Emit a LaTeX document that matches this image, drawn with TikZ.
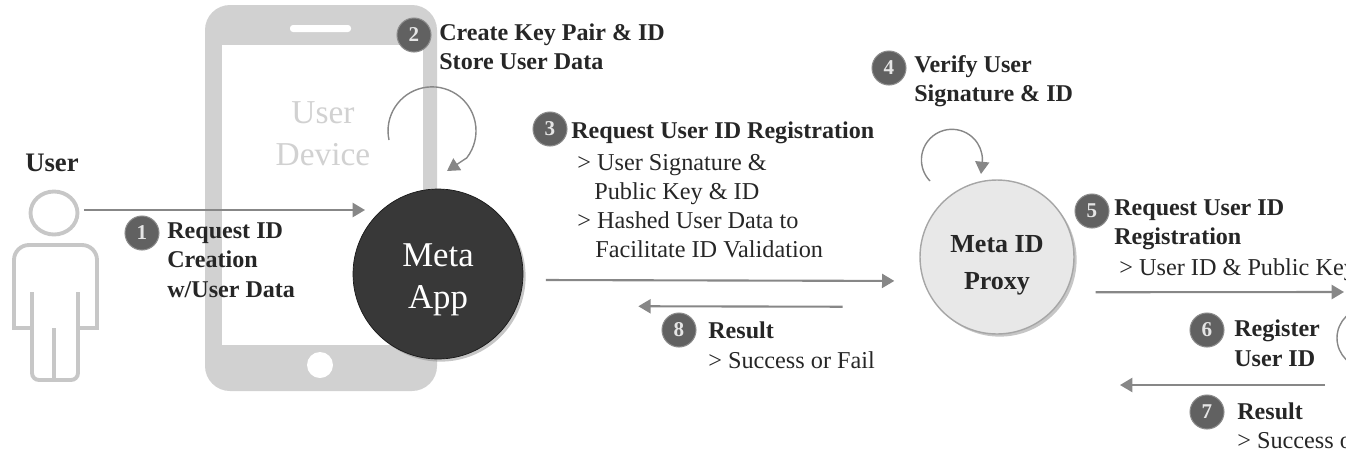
\documentclass[tikz,border=0pt]{standalone}
\usepackage{fontspec}
\setmainfont{Liberation Serif}
\usetikzlibrary{arrows.meta,shadows,shapes.geometric}

\tikzset{
  flowarrow/.style={draw=flowgray, line width=1.2pt, -{Triangle[length=7pt,width=8pt]}},
  looparrow/.style={draw=flowgray, line width=0.8pt, -{Triangle[length=7pt,width=8pt]}},
  stepbadge/.style={circle, fill=badgegray, draw=badgeedge, line width=0.6pt, minimum size=0.68cm, inner sep=0pt,
    text=black!10, font=\fontsize{12}{12}\selectfont\bfseries},
  steplabel/.style={anchor=west, align=left, inner sep=0pt, text=inkgray,
    font=\fontsize{13.7}{16.8}\selectfont\bfseries},
  subitem/.style={anchor=west, align=left, inner sep=0pt, text=inkgray,
    font=\fontsize{13.8}{16.6}\selectfont},
  personline/.style={draw=persongray, line width=2.2pt}
}

\begin{document}
\begin{tikzpicture}[x=0.02cm, y=-0.02cm]
  % Define colors for the grey palette
  \colorlet{flowgray}{black!47}
  \colorlet{badgegray}{black!62}
  \colorlet{badgeedge}{black!45}
  \colorlet{inkgray}{black!85}
  \colorlet{persongray}{black!22}
  \colorlet{phonegray}{black!18}

  \path[use as bounding box, clip] (0,0) rectangle (1346,454);

  % Phone behind the app
  \fill[phonegray, rounded corners=0.5cm] (205,5) rectangle (437,391);
  \fill[white] (222,45) rectangle (423,345);
  \fill[white, rounded corners=0.06cm] (290,25) rectangle (351,32);
  \fill[white] (320,365) circle (13);
  \node[font=\fontsize{19}{24}\selectfont, text=phonegray, align=center, inner sep=0pt] (devicelabel) at (323,134) {User\\Device};

  % User figure
  \node[font=\fontsize{15.2}{16}\selectfont\bfseries, text=inkgray, inner sep=0pt] (userlabel) at (52,163) {User};
  \node[ellipse, personline, minimum width=0.94cm, minimum height=0.86cm, inner sep=0pt] (userhead) at (54,213) {};
  \draw[personline] (32,328) -- (14,328) [rounded corners=0.3cm] -- (14,245) -- (97,245) [sharp corners] -- (97,328) -- (78,328);
  \draw[personline, rounded corners=0.14cm] (32,292) -- (32,380) -- (78,380) -- (78,292);
  \draw[personline] (54,328) -- (54,380);

  % Main circles
  \node[circle, fill=black!78, draw=black!90, minimum size=3.4cm, inner sep=0pt,
    drop shadow={shadow xshift=1.5pt, shadow yshift=-1.5pt, opacity=0.45}] (metaapp) at (438,274) {};
  \node[circle, fill=black!9, draw=black!35, line width=0.8pt, minimum size=3.08cm, inner sep=0pt,
    drop shadow={shadow xshift=1.5pt, shadow yshift=-1.5pt, opacity=0.45}] (metaproxy) at (997,257) {};
  \node[text=white, align=center, inner sep=0pt, font=\fontsize{19.8}{24}\selectfont] (applabel) at (438,280) {Meta\\App};
  \node[text=inkgray, align=center, inner sep=0pt, font=\fontsize{14.8}{21}\selectfont\bfseries] (proxylabel) at (997,265) {Meta ID\\Proxy};

  % Free ends of connectors
  \coordinate (appentry) at (365,210);
  \coordinate (registryentry) at (1344,292);
  \coordinate (resultstart) at (1325,385);
  \coordinate (resultend) at (1120,385);
  \coordinate (deviceloop) at (389,140);
  \coordinate (proxyloop) at (930,181);

  % Arrows for the request flow
  \draw[flowarrow, shorten <=2.5pt] (userhead.east |- appentry) -- (appentry);
  \draw[flowarrow, shorten <=13pt, shorten >=16.4pt] (metaapp.-4) -- (metaproxy.198);
  \draw[flowarrow, shorten <=54pt, shorten >=69pt] (metaproxy.220.5) -- (metaapp.-22.8);
  \draw[flowarrow, shorten <=16.7pt] (metaproxy.-27) -- (registryentry);
  \draw[flowarrow] (resultstart) -- (resultend);

  % Self loops
  \draw[looparrow] (deviceloop) arc[start angle=192, end angle=-38, radius=0.88cm] -- (447,171);
  \draw[looparrow] (proxyloop) arc[start angle=224, end angle=0, radius=0.61cm] -- (981,174);
  \draw[draw=flowgray, line width=0.8pt] (1367,338) circle (30);

  % Numbered badges
  \node[stepbadge] (stepone) at (142,233) {1};
  \node[stepbadge] (steptwo) at (414,35) {2};
  \node[stepbadge] (stepthree) at (550,129) {3};
  \node[stepbadge] (stepfour) at (889,68) {4};
  \node[stepbadge] (stepfive) at (1092,211) {5};
  \node[stepbadge] (stepsix) at (1207,330) {6};
  \node[stepbadge] (stepseven) at (1207,412) {7};
  \node[stepbadge] (stepeight) at (679,330) {8};

  % Step labels
  \node[steplabel] (labelone) at (167,260) {Request ID\\Creation\\w/User Data};
  \node[steplabel] (labeltwo) at (439,47) {Create Key Pair \& ID\\Store User Data};
  \node[steplabel] (labelthree) at (571,133) {Request User ID Registration};
  \node[subitem] (itemthree) at (577,206) {> User Signature \&\\\hspace*{0.34cm}Public Key \& ID\\> Hashed User Data to\\\hspace*{0.36cm}Facilitate ID Validation};
  \node[steplabel] (labelfour) at (914,81) {Verify User\\Signature \& ID};
  \node[steplabel] (labelfive) at (1114,225) {Request User ID\\Registration};
  \node[subitem] (itemfive) at (1119,270) {> User ID \& Public Key};
  \node[steplabel] (labelsix) at (1234,343) {Register\\User ID};
  \node[steplabel] (labelseven) at (1237,411) {Result};
  \node[subitem] (itemseven) at (1237,441) {> Success o};
  \node[steplabel] (labeleight) at (708,330) {Result};
  \node[subitem] (itemeight) at (708,360) {> Success or Fail};
\end{tikzpicture}
\end{document}
